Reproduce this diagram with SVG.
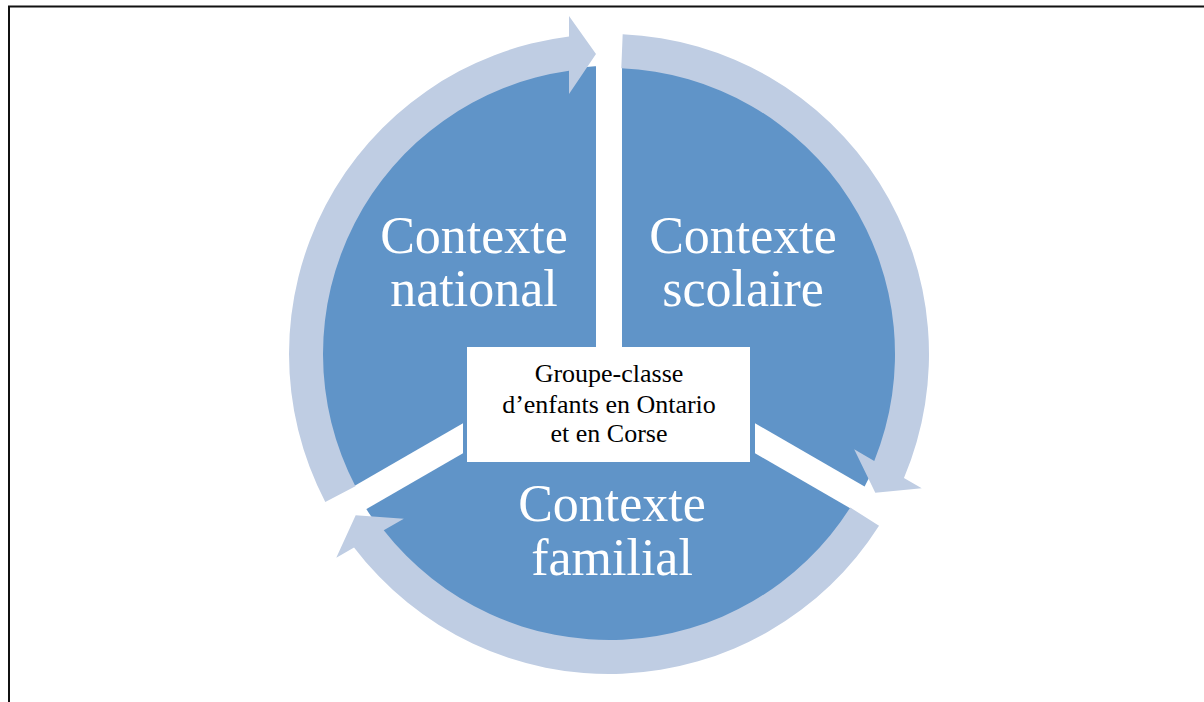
<svg xmlns="http://www.w3.org/2000/svg" xmlns:xlink="http://www.w3.org/1999/xlink" width="1204" height="702" viewBox="0 0 1204 702">
  <style>
    .frame { stroke: #111; stroke-width: 2; fill: none; }
    .pie { fill: #6094C8; }
    .gap { fill: #FFFFFF; }
    .ring { fill: #BFCDE3; }
    .big { font-family: "Liberation Serif", "Times New Roman", serif; font-size: 52px; fill: #FFFFFF; text-anchor: middle; }
    .small { font-family: "Liberation Serif", "Times New Roman", serif; font-size: 26px; fill: #000000; text-anchor: middle; }
  </style>
  <defs>
    <path id="ringArrow" d="M 325.3 502 A 320 320 0 0 1 569 36.5 L 569 16 L 596 54 L 569 94 L 569 70.8 A 286 286 0 0 0 355.4 486.2 Z"/>
  </defs>
  <rect width="1204" height="702" fill="#FFFFFF"/>
  <path class="frame" d="M 9 702 L 9 6.5 L 1204 6.5"/>

  <g id="pie">
    <circle class="pie" cx="609" cy="354" r="288"/>
    <rect class="gap" x="596" y="20" width="26" height="332"/>
    <polygon class="gap" points="755,423.3 755,453.3 1000,594.7 1000,564.7"/>
    <polygon class="gap" points="463,423.3 463,453.3 218,594.7 218,564.7"/>
  </g>

  <g id="connectors">
    <use xlink:href="#ringArrow" class="ring"/>
    <use xlink:href="#ringArrow" class="ring" transform="rotate(120 609 354)"/>
    <use xlink:href="#ringArrow" class="ring" transform="rotate(240 609 354)"/>
  </g>

  <g id="node-national">
    <text class="big" x="474" y="253">Contexte</text>
    <text class="big" x="474" y="306">national</text>
  </g>
  <g id="node-scolaire">
    <text class="big" x="743" y="253">Contexte</text>
    <text class="big" x="743" y="306">scolaire</text>
  </g>
  <g id="node-familial">
    <text class="big" x="612" y="521">Contexte</text>
    <text class="big" x="612" y="575">familial</text>
  </g>
  <g id="node-center">
    <rect x="467" y="347" width="283" height="115" fill="#FFFFFF"/>
    <text class="small" x="609" y="382">Groupe-classe</text>
    <text class="small" x="609" y="413">d’enfants en Ontario</text>
    <text class="small" x="609" y="442">et en Corse</text>
  </g>
</svg>
